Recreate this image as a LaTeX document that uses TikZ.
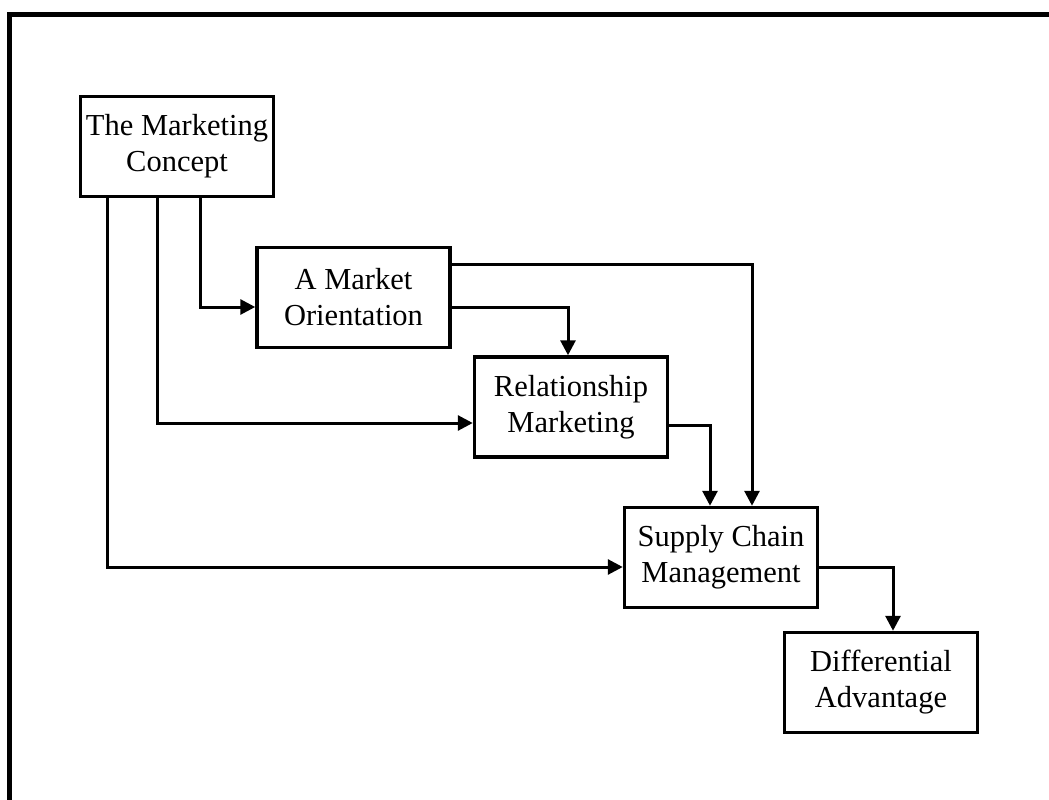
\documentclass[tikz,border=0pt]{standalone}
\usepackage{fontspec}
\setmainfont{Liberation Serif}
\usetikzlibrary{arrows.meta}
\begin{document}
\begin{tikzpicture}[x=1pt,y=-1pt,
  box/.style={draw,line width=3.5pt,minimum width=193pt,minimum height=100pt,inner sep=0pt,align=center,font=\fontsize{30.5}{36}\selectfont},
  conn/.style={line width=3pt,-{Triangle[length=15pt,width=15pt]}},
  frame/.style={line width=5pt}]
\useasboundingbox (0,0) rectangle (1049,800);
\coordinate (ftl) at (9.5,14.5);
\coordinate (fr) at (1052,14.5);
\coordinate (fb) at (9.5,803);
\draw[frame] (fr) -- (ftl) -- (fb);
\node[box] (mc) at (177,146.5) {The Marketing\\Concept};
\node[box] (mo) at (353.5,297.5) {A Market\\Orientation};
\node[box] (rm) at (571,407) {Relationship\\Marketing};
\node[box] (scm) at (721,557.5) {Supply Chain\\Management};
\node[box] (da) at (881,682.5) {Differential\\Advantage};
\draw[conn] ([xshift=23pt]mc.south) |- ([yshift=-9.5pt]mo.west);
\draw[conn] ([xshift=-20pt]mc.south) |- ([yshift=-16pt]rm.west);
\draw[conn] ([xshift=-70pt]mc.south) |- ([yshift=-9.5pt]scm.west);
\draw[conn] ([yshift=33.5pt]mo.east) -| ([xshift=31pt]scm.north);
\draw[conn] ([yshift=-9.5pt]mo.east) -| ([xshift=-3pt]rm.north);
\draw[conn] ([yshift=-18pt]rm.east) -| ([xshift=-11pt]scm.north);
\draw[conn] ([yshift=-9.5pt]scm.east) -| ([xshift=12pt]da.north);
\end{tikzpicture}
\end{document}
